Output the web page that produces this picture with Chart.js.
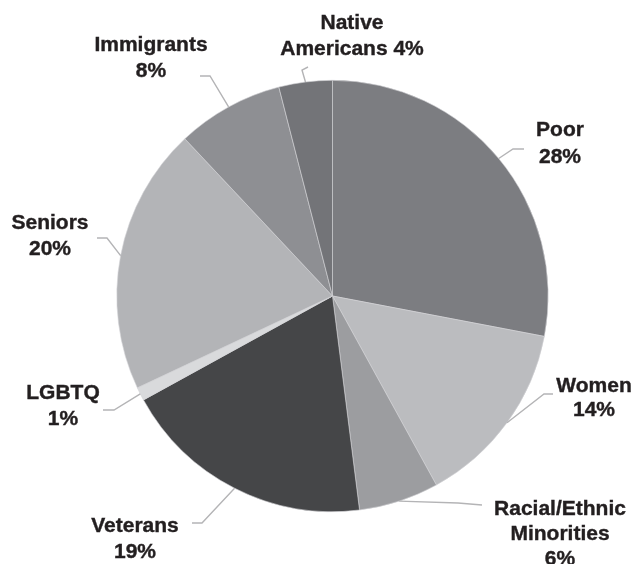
<!DOCTYPE html>
<html>
<head>
<meta charset="utf-8">
<style>
  html, body { margin: 0; padding: 0; background: #ffffff; }
  #wrap { width: 634px; height: 564px; position: relative; }
</style>
<script src="https://cdn.jsdelivr.net/npm/chart.js@4/dist/chart.umd.min.js"></script>
</head>
<body>
<div id="wrap"><canvas id="pie" width="634" height="564"></canvas></div>
<script>
// Share of each group (percent), clockwise from 12 o'clock
const groups = ['Poor', 'Women', 'Racial/Ethnic Minorities', 'Veterans', 'LGBTQ', 'Seniors', 'Immigrants', 'Native Americans'];
const shares = [28, 14, 6, 19, 1, 20, 8, 4];
// Label text, split into lines
const labelLines = [
  ['Poor', '28%'],
  ['Women', '14%'],
  ['Racial/Ethnic', 'Minorities', '6%'],
  ['Veterans', '19%'],
  ['LGBTQ', '1%'],
  ['Seniors', '20%'],
  ['Immigrants', '8%'],
  ['Native', 'Americans 4%']
];
const sliceColors = ['#7c7d81', '#bbbcbf', '#9c9da0', '#454648', '#d9dadc', '#b3b4b7', '#8e8f93', '#737478'];

// Where each callout sits: text centre x, first baseline, line step,
// the leader's elbow and its end next to the text
const callouts = [
  { cx: 560, y0: 136, step: 27, elbow: [513, 149], end: [524, 149] },
  { cx: 594, y0: 392, step: 24, elbow: [544, 394], end: [553, 394] },
  { cx: 560, y0: 515, step: 25, elbow: [458, 503], end: [482, 505] },
  { cx: 135, y0: 532, step: 26, elbow: [202, 523], end: [192, 523] },
  { cx: 63,  y0: 399, step: 26, elbow: [114, 410], end: [103, 410] },
  { cx: 50,  y0: 229, step: 26, elbow: [107, 238], end: [97, 238] },
  { cx: 151, y0: 51,  step: 26, elbow: [210, 76],  end: [200, 76] },
  { cx: 352, y0: 29,  step: 26, elbow: [302, 70],  end: [308, 67] }
];

const calloutPlugin = {
  id: 'callouts',
  afterDatasetsDraw(chart) {
    const ctx = chart.ctx;
    const arcs = chart.getDatasetMeta(0).data;
    ctx.save();
    arcs.forEach((arc, i) => {
      const c = callouts[i];
      const mid = (arc.startAngle + arc.endAngle) / 2;
      const sx = arc.x + Math.cos(mid) * arc.outerRadius;
      const sy = arc.y + Math.sin(mid) * arc.outerRadius;
      ctx.beginPath();
      ctx.moveTo(sx, sy);
      ctx.lineTo(c.elbow[0], c.elbow[1]);
      ctx.lineTo(c.end[0], c.end[1]);
      ctx.strokeStyle = '#b4b4b6';
      ctx.lineWidth = 1.4;
      ctx.stroke();

      ctx.fillStyle = '#231f20';
      ctx.strokeStyle = '#231f20';
      ctx.lineWidth = 0.4;
      ctx.font = 'bold 21px "Liberation Sans", Arial, sans-serif';
      ctx.textAlign = 'center';
      ctx.textBaseline = 'alphabetic';
      labelLines[i].forEach((line, k) => {
        const y = c.y0 + k * c.step;
        ctx.fillText(line, c.cx, y);
        ctx.strokeText(line, c.cx, y);
      });
    });
    ctx.restore();
  }
};

new Chart(document.getElementById('pie'), {
  type: 'pie',
  data: {
    labels: groups,
    datasets: [{
      data: shares,
      backgroundColor: sliceColors,
      borderColor: '#d4d4d6',
      borderWidth: 0.6
    }]
  },
  options: {
    responsive: false,
    animation: false,
    devicePixelRatio: 1,
    layout: { padding: { top: 80, bottom: 52, left: 116, right: 85 } },
    plugins: {
      legend: { display: false },
      tooltip: { enabled: false }
    }
  },
  plugins: [calloutPlugin]
});
</script>
</body>
</html>
